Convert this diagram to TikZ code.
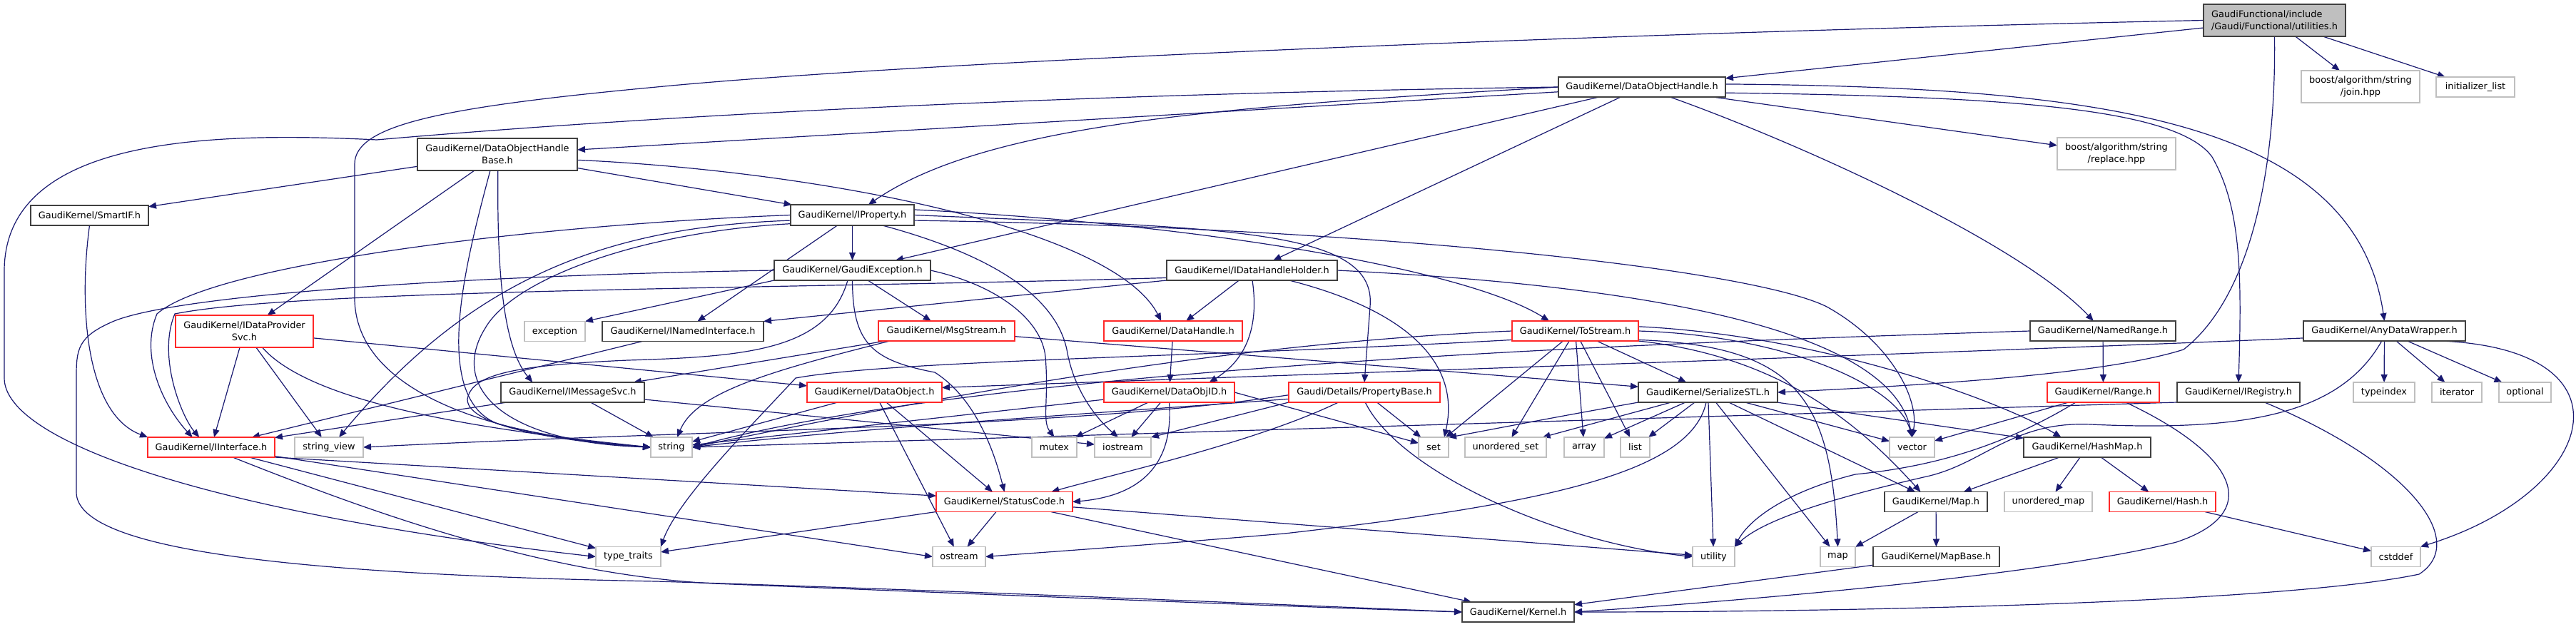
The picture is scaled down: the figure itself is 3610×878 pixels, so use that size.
\documentclass[tikz,border=0pt]{standalone}
\usepackage{fontspec}
\setmainfont{DejaVu Sans}
\usetikzlibrary{arrows.meta}
\definecolor{edgec}{RGB}{25,25,112}
\definecolor{blkc}{RGB}{64,64,64}
\definecolor{redc}{RGB}{255,40,40}
\definecolor{sysc}{RGB}{191,191,191}
\definecolor{rootc}{RGB}{191,191,191}
\newcommand\nodefont{\fontsize{12.9}{16.7}\selectfont}
\pgfdeclarelayer{back}
\pgfdeclarelayer{edges}
\pgfsetlayers{back,edges,main}
\tikzset{
 box/.style={rectangle, inner sep=0pt, outer sep=0pt, line width=1.5pt, minimum height=28pt, font=\nodefont, align=center, fill=white},
 blk/.style={box, draw=blkc},
 rdn/.style={box, draw=redc},
 sys/.style={box, draw=sysc},
 rootbox/.style={box, draw=blkc, fill=rootc},
 ed/.style={draw=edgec, line width=1.2pt, -{Triangle[length=11pt,width=9pt]}},
}
\begin{document}
\begin{tikzpicture}[x=1pt,y=-1pt]
\useasboundingbox (0,0) rectangle (3610,878);
\begin{pgfonlayer}{back}
\fill[white] (0,0) rectangle (3610,878);
\end{pgfonlayer}
% ---------- nodes ----------
\node[rootbox, minimum width=199pt, minimum height=45pt, align=left] (U) at (3187.5,28.5) {GaudiFunctional/include\\/Gaudi/Functional/utilities.h};
\node[sys, minimum width=166pt, minimum height=45pt] (join) at (3308,121.5) {boost/algorithm/string\\/join.hpp};
\node[sys, minimum width=110pt] (initl) at (3469,122) {initializer\_list};
\node[sys, minimum width=166pt, minimum height=45pt] (replace) at (2966,215.5) {boost/algorithm/string\\/replace.hpp};
\node[blk, minimum width=234pt] (DOH) at (2301,122) {GaudiKernel/DataObjectHandle.h};
\node[blk, minimum width=224pt, minimum height=45pt] (DOHB) at (697,216.5) {GaudiKernel/DataObjectHandle\\Base.h};
\node[blk, minimum width=165pt] (SmartIF) at (125.5,302) {GaudiKernel/SmartIF.h};
\node[blk, minimum width=173pt, minimum height=29pt] (IProp) at (1194.5,301.5) {GaudiKernel/IProperty.h};
\node[blk, minimum width=219pt] (GExc) at (1194.5,379) {GaudiKernel/GaudiException.h};
\node[blk, minimum width=239pt] (IDHH) at (1754.5,379) {GaudiKernel/IDataHandleHolder.h};
\node[rdn, minimum width=193pt, minimum height=45pt] (IDPS) at (342.5,464.5) {GaudiKernel/IDataProvider\\Svc.h};
\node[sys, minimum width=85pt] (exception) at (777.5,464.5) {exception};
\node[blk, minimum width=226pt] (INamed) at (957,464.5) {GaudiKernel/INamedInterface.h};
\node[rdn, minimum width=191pt] (MsgStream) at (1326.5,464) {GaudiKernel/MsgStream.h};
\node[rdn, minimum width=194pt] (DataHandle) at (1644,464) {GaudiKernel/DataHandle.h};
\node[rdn, minimum width=177pt] (ToStream) at (2207.5,464) {GaudiKernel/ToStream.h};
\node[blk, minimum width=204pt] (NamedRange) at (2947,464) {GaudiKernel/NamedRange.h};
\node[blk, minimum width=227pt] (ADW) at (3341.5,464) {GaudiKernel/AnyDataWrapper.h};
\node[blk, minimum width=201pt] (IMsgSvc) at (802.5,550) {GaudiKernel/IMessageSvc.h};
\node[rdn, minimum width=189pt] (DataObject) at (1225.5,550) {GaudiKernel/DataObject.h};
\node[rdn, minimum width=183pt] (DataObjID) at (1638.5,550) {GaudiKernel/DataObjID.h};
\node[rdn, minimum width=212pt] (PropBase) at (1912,550) {Gaudi/Details/PropertyBase.h};
\node[blk, minimum width=195pt] (STL) at (2393.5,550) {GaudiKernel/SerializeSTL.h};
\node[rdn, minimum width=157pt] (Range) at (2947.5,550) {GaudiKernel/Range.h};
\node[blk, minimum width=172pt] (IReg) at (3137,550) {GaudiKernel/IRegistry.h};
\node[sys, minimum width=86pt] (typeindex) at (3341,550) {typeindex};
\node[sys, minimum width=70pt] (iterator) at (3443,550) {iterator};
\node[sys, minimum width=73pt] (optional) at (3538.5,550) {optional};
\node[rdn, minimum width=178pt] (IInterface) at (296,627) {GaudiKernel/IInterface.h};
\node[sys, minimum width=96pt] (sview) at (461,627) {string\_view};
\node[sys, minimum width=58pt] (string) at (941,627) {string};
\node[sys, minimum width=63pt] (mutex) at (1477.5,627) {mutex};
\node[sys, minimum width=79pt] (iostream) at (1573.5,627) {iostream};
\node[sys, minimum width=42pt] (set) at (2009,627) {set};
\node[sys, minimum width=114pt] (uset) at (2110,627) {unordered\_set};
\node[sys, minimum width=56pt] (array) at (2220,627) {array};
\node[sys, minimum width=41pt] (list) at (2291.5,627) {list};
\node[sys, minimum width=63pt] (vector) at (2679.5,627) {vector};
\node[blk, minimum width=178pt] (HashMap) at (2925,627) {GaudiKernel/HashMap.h};
\node[rdn, minimum width=191pt] (StatusCode) at (1407.5,703.5) {GaudiKernel/StatusCode.h};
\node[blk, minimum width=144pt] (Map) at (2713,703.5) {GaudiKernel/Map.h};
\node[sys, minimum width=123pt] (umap) at (2870.5,703.5) {unordered\_map};
\node[rdn, minimum width=149pt] (Hash) at (3030.5,703.5) {GaudiKernel/Hash.h};
\node[sys, minimum width=91pt] (ttraits) at (880.5,780.5) {type\_traits};
\node[sys, minimum width=74pt] (ostream) at (1344,780.5) {ostream};
\node[sys, minimum width=59pt] (utility) at (2401.5,780.5) {utility};
\node[sys, minimum width=49pt] (map) at (2575.5,780.5) {map};
\node[blk, minimum width=177pt] (MapBase) at (2713.5,780.5) {GaudiKernel/MapBase.h};
\node[sys, minimum width=69pt] (cstddef) at (3357.5,780.5) {cstddef};
\node[blk, minimum width=157pt] (Kernel) at (2127.5,858) {GaudiKernel/Kernel.h};
% ---------- edges ----------
\begin{pgfonlayer}{edges}
% utilities.h
\draw[ed] (U) -- (DOH);
\draw[ed] (U.south) .. controls (3190,250) and (3150,420) .. (3060,490) .. controls (2950,525) and (2700,540) .. (STL.east);
\draw[ed] (U) -- (join);
\draw[ed] (U) -- (initl);
\draw[ed] (U.west) .. controls (2300,45) and (1300,85) .. (920,122) .. controls (620,150) and (497,175) .. (497,230) -- (497,420) .. controls (500,560) and (720,615) .. (string.west);
% DataObjectHandle.h
\draw[ed] (DOH) -- (DOHB);
\draw[ed] (DOH.west) .. controls (1700,150) and (1380,175) .. (IProp.33);
\draw[ed] (DOH) -- (GExc);
\draw[ed] (DOH) -- (IDHH);
\draw[ed] (DOH) -- (replace);
\draw[ed] (DOH) .. controls (2520,200) and (2830,340) .. (NamedRange);
\draw[ed] (DOH.2) .. controls (2950,122) and (3300,170) .. (ADW.north);
\draw[ed] (DOH.-4) .. controls (2800,135) and (3050,150) .. (3100,220) .. controls (3140,290) and (3142,380) .. (IReg.north);
\draw[ed] (DOH.west) .. controls (1600,130) and (1000,155) .. (528,196) .. controls (300,185) and (6,190) .. (6,380) -- (6,530) .. controls (6,620) and (300,720) .. (ttraits.west);
% DataObjectHandleBase.h
\draw[ed] (DOHB) -- (SmartIF);
\draw[ed] (DOHB) -- (IProp);
\draw[ed] (DOHB) -- (IDPS);
\draw[ed] (DOHB.-4) .. controls (1150,240) and (1560,320) .. (DataHandle.140);
\draw[ed] (DOHB.-88) .. controls (697,350) and (700,480) .. (IMsgSvc.166);
\draw[ed] (DOHB.-114) .. controls (655,360) and (600,560) .. (700,595) .. controls (780,615) and (850,622) .. (string.west);
% SmartIF.h
\draw[ed] (SmartIF.south) .. controls (110,430) and (120,580) .. (IInterface.north west);
% IProperty.h
\draw[ed] (IProp) -- (GExc);
\draw[ed] (IProp) -- (INamed);
\draw[ed] (IProp.5) .. controls (1700,315) and (2060,380) .. (ToStream.159);
\draw[ed] (IProp.0) .. controls (1720,320) and (1930,320) .. (1920,430) -- (PropBase.north);
\draw[ed] (IProp.-5) .. controls (1900,318) and (2450,375) .. (2560,430) .. controls (2650,480) and (2690,560) .. (vector.north);
\draw[ed] (IProp.west) .. controls (750,315) and (300,370) .. (220,440) .. controls (195,500) and (230,570) .. (IInterface.152);
\draw[ed] (IProp.-175) .. controls (850,318) and (660,390) .. (sview.45);
\draw[ed] (IProp.-172) .. controls (900,325) and (720,390) .. (680,460) .. controls (630,540) and (700,620) .. (string.west);
\draw[ed] (IProp.-19) .. controls (1400,360) and (1480,420) .. (1495,490) .. controls (1505,550) and (1540,590) .. (iostream.115);
% GaudiException.h
\draw[ed] (GExc.south west) -- (exception.north east);
\draw[ed] (GExc) -- (MsgStream);
\draw[ed] (GExc.south) .. controls (1195,480) and (1220,505) .. (1310,522) .. controls (1370,560) and (1395,640) .. (StatusCode.north);
\draw[ed] (GExc.-115) .. controls (1160,490) and (1050,500) .. (880,505) .. controls (720,512) and (660,525) .. (655,560) .. controls (655,600) and (800,620) .. (string.west);
\draw[ed] (GExc.east) .. controls (1400,400) and (1460,450) .. (1465,500) .. controls (1470,560) and (1460,590) .. (mutex.north);
\draw[ed] (GExc.west) .. controls (700,385) and (260,410) .. (160,450) .. controls (108,472) and (107,490) .. (107,530) -- (107,690) .. controls (107,770) and (400,805) .. (920,815) .. controls (1400,830) and (1800,848) .. (Kernel.west);
% IDataHandleHolder.h
\draw[ed] (IDHH.south west) -- (INamed.north east);
\draw[ed] (IDHH) -- (DataHandle);
\draw[ed] (IDHH.-88) .. controls (1765,460) and (1745,505) .. (DataObjID.14);
\draw[ed] (IDHH.-15) .. controls (1990,440) and (2045,520) .. (set.43);
\draw[ed] (IDHH.east) .. controls (2300,400) and (2650,460) .. (vector.north);
\draw[ed] (IDHH.-175) .. controls (1100,405) and (420,405) .. (245,440) .. controls (220,500) and (255,585) .. (IInterface.140);
% IDataProviderSvc.h
\draw[ed] (IDPS) -- (IInterface);
\draw[ed] (IDPS) -- (sview);
\draw[ed] (IDPS.-42) .. controls (440,570) and (700,605) .. (string.west);
\draw[ed] (IDPS) -- (DataObject);
% INamedInterface.h, IMessageSvc.h
\draw[ed] (INamed) -- (IInterface);
\draw[ed] (IMsgSvc) -- (IInterface);
\draw[ed] (IMsgSvc) -- (string);
\draw[ed] (IMsgSvc) -- (iostream);
% MsgStream.h
\draw[ed] (MsgStream) -- (IMsgSvc);
\draw[ed] (MsgStream) -- (STL);
\draw[ed] (MsgStream.-170) .. controls (1080,520) and (975,550) .. (string.60);
% DataHandle.h, DataObject.h, DataObjID.h
\draw[ed] (DataHandle) -- (DataObjID);
\draw[ed] (DataObject) -- (StatusCode);
\draw[ed] (DataObject) -- (string);
\draw[ed] (DataObject) -- (ostream);
\draw[ed] (DataObjID) -- (string);
\draw[ed] (DataObjID) -- (mutex);
\draw[ed] (DataObjID) -- (iostream);
\draw[ed] (DataObjID.east) -- (set);
\draw[ed] (DataObjID.south) .. controls (1645,650) and (1600,695) .. (StatusCode.east);
% ToStream.h
\draw[ed] (ToStream.west) .. controls (1700,482) and (1300,560) .. (string.east);
\draw[ed] (ToStream.-172) .. controls (1700,500) and (1250,505) .. (1115,530) .. controls (1050,600) and (950,700) .. (ttraits.north east);
\draw[ed] (ToStream) -- (set);
\draw[ed] (ToStream) -- (uset);
\draw[ed] (ToStream) -- (array);
\draw[ed] (ToStream) -- (list);
\draw[ed] (ToStream) -- (STL);
\draw[ed] (ToStream.east) .. controls (2500,470) and (2660,540) .. (vector.north);
\draw[ed] (ToStream.-8) .. controls (2520,485) and (2565,560) .. (map.north);
\draw[ed] (ToStream.south east) .. controls (2500,500) and (2610,600) .. (Map.147);
\draw[ed] (ToStream.4) .. controls (2550,470) and (2800,560) .. (HashMap.159);
% PropertyBase.h
\draw[ed] (PropBase) -- (set);
\draw[ed] (PropBase.-85) .. controls (1960,660) and (2180,760) .. (utility.west);
\draw[ed] (PropBase.-175) .. controls (1600,575) and (1200,600) .. (string.east);
\draw[ed] (PropBase.south west) -- (iostream.north east);
\draw[ed] (PropBase.-159) .. controls (1760,620) and (1560,665) .. (StatusCode.12);
\draw[ed] (PropBase.-178) .. controls (1500,600) and (1000,602) .. (sview.east);
% SerializeSTL.h
\draw[ed] (STL.south west) .. controls (2150,590) and (2060,608) .. (set.north east);
\draw[ed] (STL) -- (uset);
\draw[ed] (STL) -- (array);
\draw[ed] (STL) -- (list);
\draw[ed] (STL) -- (vector);
\draw[ed] (STL) -- (utility);
\draw[ed] (STL) -- (map);
\draw[ed] (STL) -- (Map);
\draw[ed] (STL) -- (HashMap);
\draw[ed] (STL.-100) .. controls (2370,660) and (2180,705) .. (1800,748) .. controls (1600,765) and (1450,775) .. (ostream.east);
% NamedRange.h, Range.h
\draw[ed] (NamedRange) -- (Range);
\draw[ed] (NamedRange.west) .. controls (2400,478) and (1400,510) .. (string.east);
\draw[ed] (Range) -- (vector);
\draw[ed] (Range.-160) .. controls (2800,630) and (2700,655) .. (2600,665) .. controls (2500,690) and (2450,730) .. (utility.north east);
\draw[ed] (Range.-24) .. controls (3140,640) and (3170,720) .. (3050,760) .. controls (2850,810) and (2400,845) .. (Kernel.east);
% IRegistry.h
\draw[ed] (IReg.south west) -- (string.east);
\draw[ed] (IReg.-21) .. controls (3380,650) and (3460,760) .. (3390,805) .. controls (3200,845) and (2600,858) .. (Kernel.east);
% AnyDataWrapper.h
\draw[ed] (ADW.-175) .. controls (2600,500) and (1900,522) .. (DataObject.4);
\draw[ed] (ADW) -- (typeindex);
\draw[ed] (ADW) -- (iterator);
\draw[ed] (ADW) -- (optional);
\draw[ed] (ADW.-10) .. controls (3700,490) and (3640,690) .. (cstddef.north east);
\draw[ed] (ADW.-105) .. controls (3280,580) and (3150,605) .. (2930,595) .. controls (2820,590) and (2780,650) .. (2700,668) .. controls (2560,700) and (2470,730) .. (utility.north east);
% HashMap.h, Hash.h, Map.h, MapBase.h
\draw[ed] (HashMap) -- (Map);
\draw[ed] (HashMap) -- (umap);
\draw[ed] (HashMap) -- (Hash);
\draw[ed] (Hash) -- (cstddef);
\draw[ed] (Map) -- (map);
\draw[ed] (Map) -- (MapBase);
\draw[ed] (MapBase) -- (Kernel);
% StatusCode.h
\draw[ed] (StatusCode) -- (ttraits);
\draw[ed] (StatusCode) -- (ostream);
\draw[ed] (StatusCode) -- (utility);
\draw[ed] (StatusCode) -- (Kernel);
% IInterface.h
\draw[ed] (IInterface.south east) -- (StatusCode.175);
\draw[ed] (IInterface.-8) -- (ostream.west);
\draw[ed] (IInterface) -- (ttraits);
\draw[ed] (IInterface.-25) .. controls (500,710) and (750,805) .. (1000,818) .. controls (1500,838) and (1850,852) .. (Kernel.west);
\end{pgfonlayer}
\end{tikzpicture}
\end{document}
